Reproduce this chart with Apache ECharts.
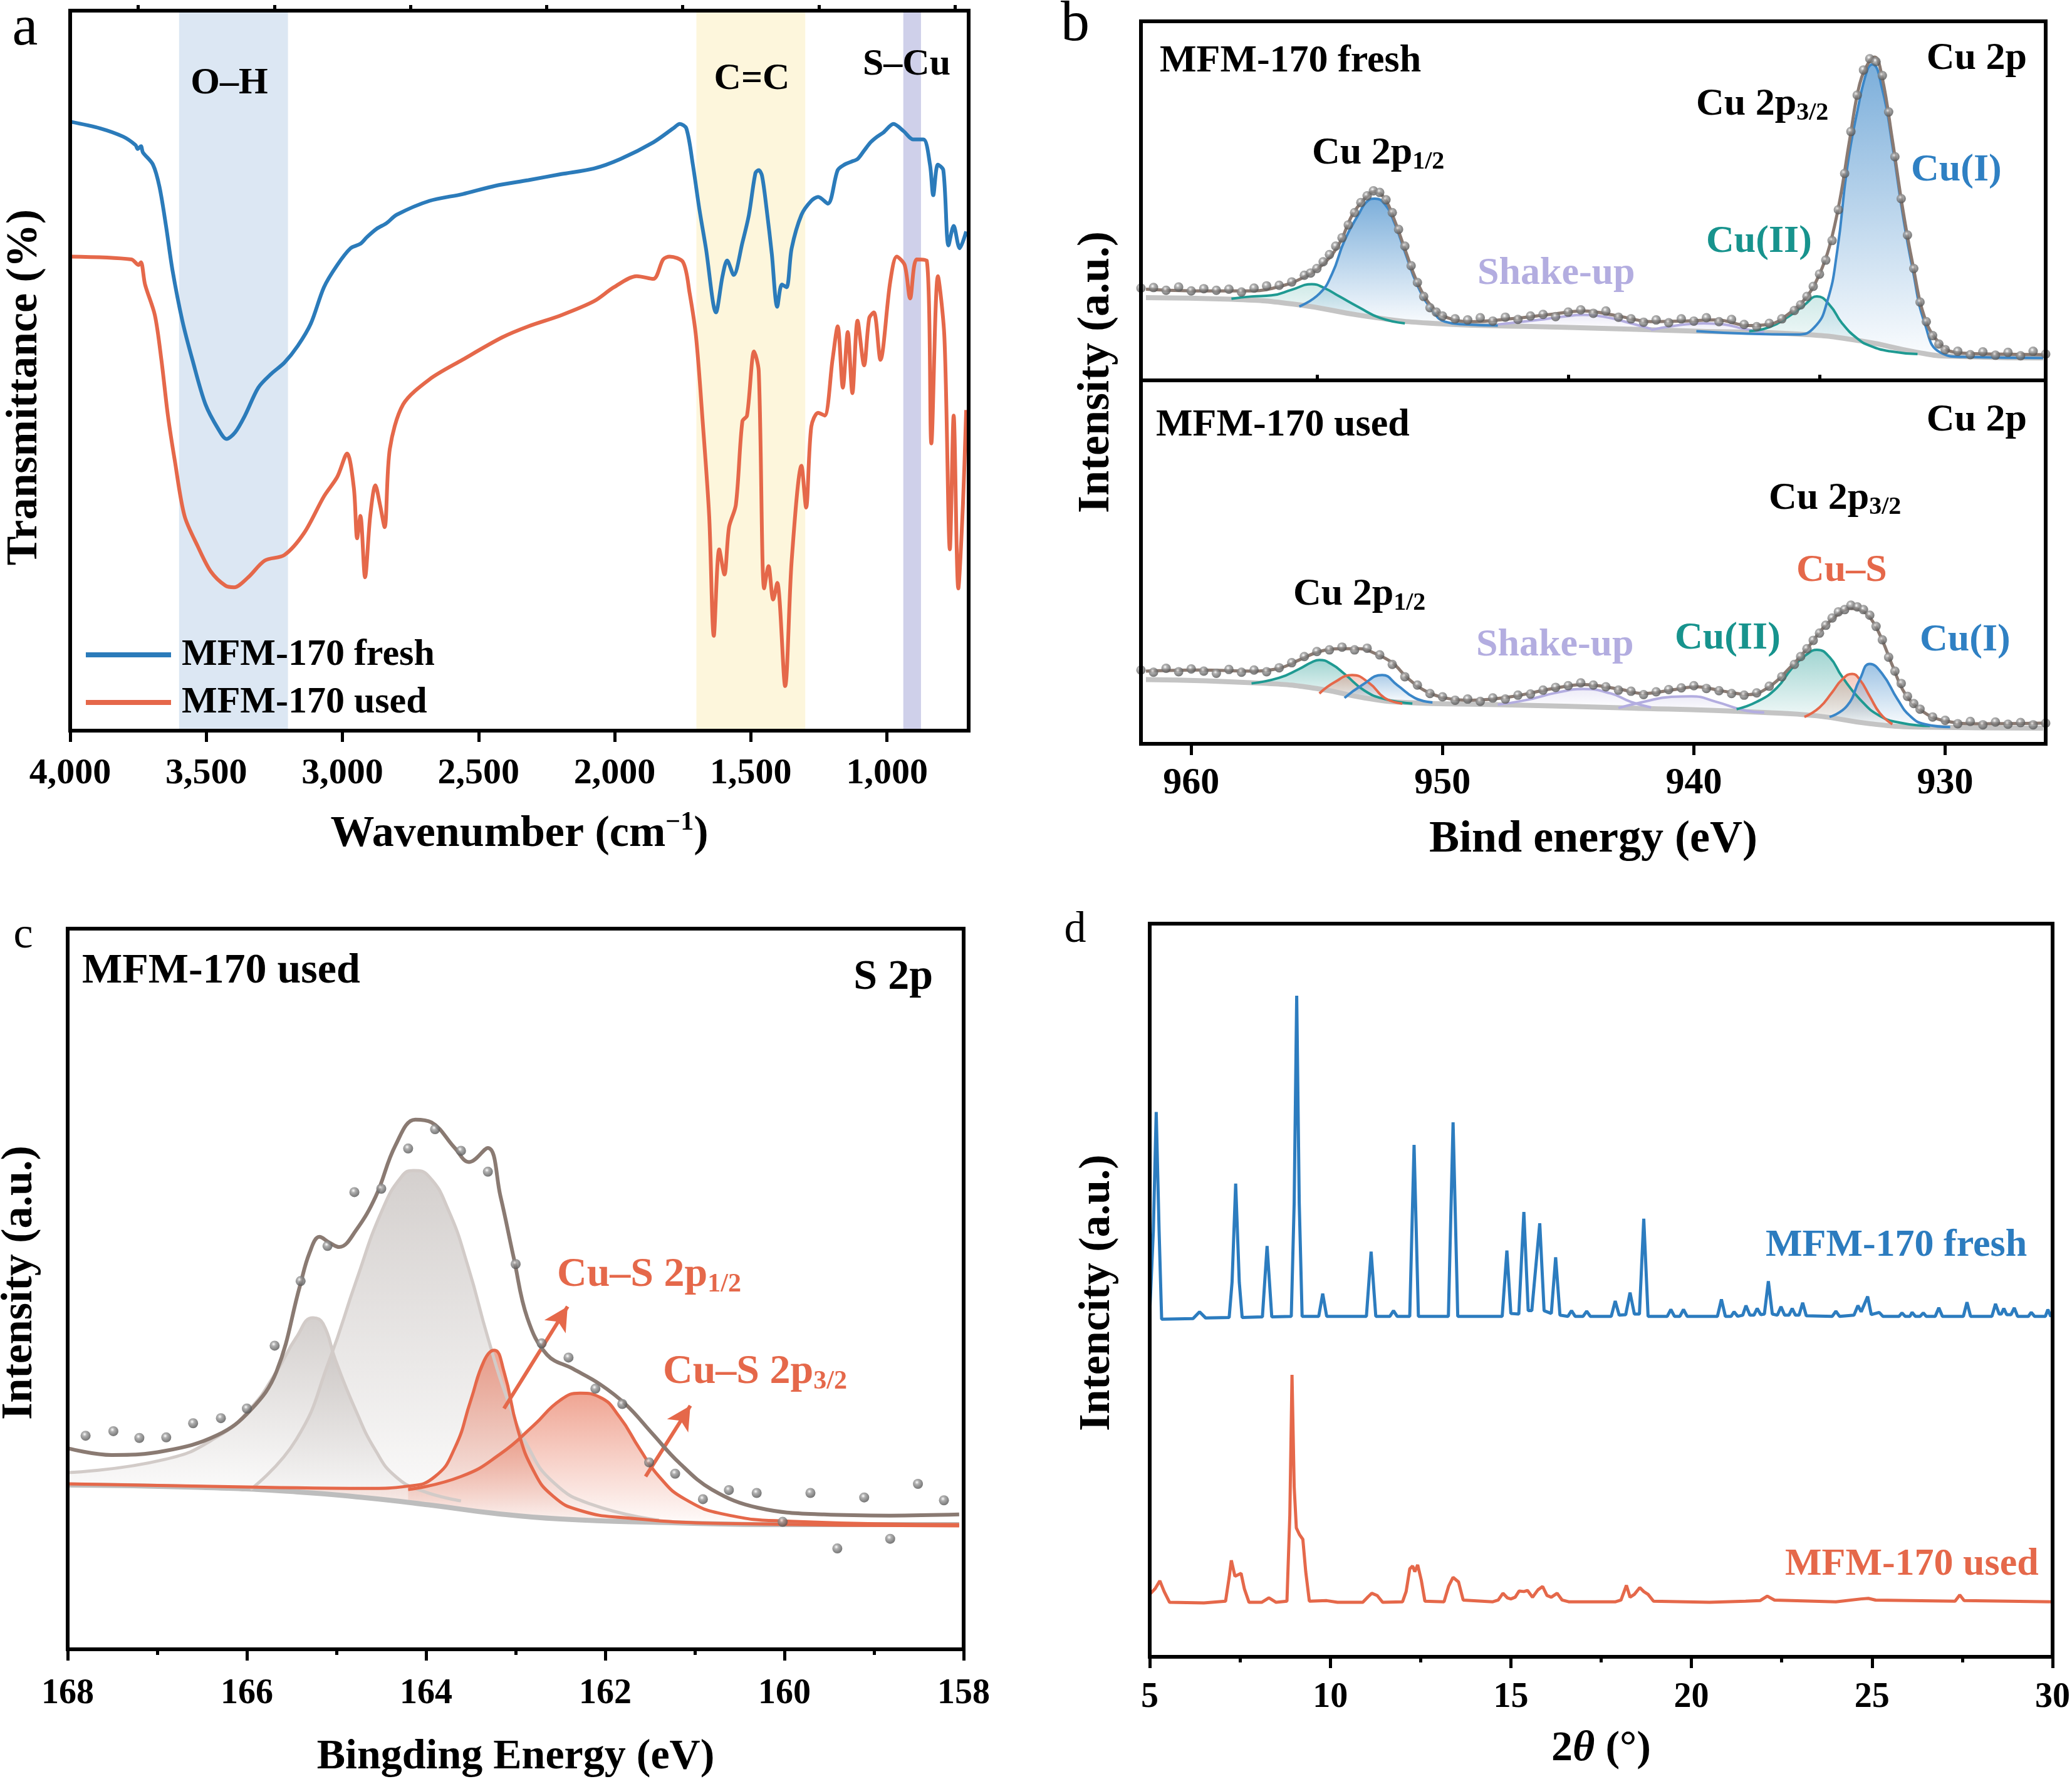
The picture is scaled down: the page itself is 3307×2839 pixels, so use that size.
<!DOCTYPE html>
<html><head><meta charset="utf-8">
<script src="https://cdn.jsdelivr.net/npm/echarts@6/dist/echarts.min.js"></script>
<style>html,body{margin:0;padding:0;background:#fff}#c{width:3307px;height:2839px}</style>
</head><body><div id="c"></div>
<script>
// ---------------- Panel a: FTIR ----------------
const ftirMajor = [1000, 1500, 2000, 2500, 3000, 3500, 4000];
const ftirMinor = [750, 1250, 1750, 2250, 2750, 3250, 3750];
const ftirFresh = [[4000,109.2],[3890,108.0],[3805,106.5],[3760,105.0],[3752,104.3],[3740,104.8],[3733,103.7],[3696,101.5],[3672,97.5],[3648,90.5],[3624,82.5],[3588,73.5],[3551,66.5],[3503,58.5],[3455,54.0],[3426,52.3],[3394,53.5],[3358,56.5],[3309,61.5],[3261,64.0],[3213,66.0],[3164,69.0],[3116,73.0],[3068,79.5],[3019,83.5],[2970,86.5],[2934,87.3],[2910,88.5],[2874,90.0],[2838,91.0],[2801,92.5],[2680,95.0],[2559,96.2],[2438,97.7],[2317,98.7],[2196,99.8],[2076,100.8],[1979,102.5],[1858,105.5],[1785,108.0],[1761,108.8],[1737,108.0],[1713,101.5],[1689,93.5],[1665,86.5],[1628,75.0],[1604,81.5],[1587,84.3],[1563,81.7],[1531,87.5],[1507,92.5],[1483,100.0],[1471,100.5],[1459,99.5],[1442,93.5],[1423,85.5],[1403,76.0],[1386,80.0],[1369,79.5],[1350,86.5],[1314,92.5],[1278,95.0],[1253,95.7],[1217,94.5],[1181,100.5],[1156,101.5],[1132,102.0],[1108,102.5],[1084,104.0],[1060,105.5],[1036,106.5],[1012,107.3],[976,108.8],[939,107.5],[903,106.0],[866,106.0],[842,101.5],[830,96.0],[813,101.5],[793,100.5],[774,87.0],[755,90.5],[733,86.5],[709,89.5]];
const ftirUsed = [[4000,85.0],[3775,84.5],[3749,83.5],[3740,84.0],[3725,80.0],[3689,74.5],[3665,66.5],[3641,56.5],[3616,48.5],[3580,38.5],[3531,33.0],[3483,28.5],[3430,26.0],[3398,25.7],[3346,27.5],[3285,30.5],[3213,31.5],[3140,35.5],[3068,42.0],[3019,45.5],[2983,49.7],[2958,43.5],[2946,34.5],[2934,38.5],[2917,27.5],[2898,38.5],[2879,44.0],[2862,40.5],[2845,36.5],[2826,50.5],[2777,58.5],[2680,63.0],[2559,66.5],[2414,70.5],[2317,72.5],[2196,74.5],[2076,77.0],[2003,79.5],[1919,81.5],[1858,81.0],[1822,84.5],[1798,85.0],[1749,84.0],[1725,78.5],[1701,70.5],[1677,55.5],[1653,38.5],[1636,17.0],[1616,32.5],[1597,28.0],[1580,36.5],[1555,40.5],[1531,55.5],[1514,56.5],[1488,68.0],[1471,64.5],[1451,25.5],[1435,29.5],[1418,23.5],[1403,26.5],[1374,8.0],[1350,30.5],[1314,47.5],[1297,40.0],[1278,54.5],[1253,57.0],[1229,56.5],[1200,66.5],[1181,72.5],[1162,61.5],[1144,71.5],[1127,60.5],[1108,73.5],[1084,65.5],[1065,74.0],[1048,75.0],[1024,66.5],[988,80.5],[964,85.0],[935,83.5],[915,77.5],[891,84.5],[854,84.3],[837,51.5],[813,81.5],[789,70.5],[769,32.5],[755,56.5],[738,25.5],[721,40.5],[709,57.5]];
const ftirBands = [[3600,3200,'#dce7f3'],[1700,1300,'#fdf6dc'],[940,875,'#cfd0ea']];

// ---------------- Panel b: Cu 2p XPS ----------------
const cuTicks = [930, 940, 950, 960];
const cuMinor = [935, 945, 955];
// fresh
const fBase = [[961.8,14.8],[958.4,14.5],[955.7,13.5],[953.1,11.5],[950.4,10.2],[945.2,9.5],[939.9,8.8],[935.9,8.3],[933.3,7.0],[931.1,5.0],[929.8,4.3],[926.1,4.0]];
const fCuI = [[939.9,8.8],[935.9,8.2],[935.2,9.5],[934.7,14],[934.3,23],[933.9,38],[933.5,48],[933.1,55.5],[932.9,56.5],[932.5,52],[932.1,42],[931.7,30],[931.3,20],[930.8,10],[930.2,5],[929.3,4.2],[926.1,4]];
const fCuI_12 = [[955.7,13.2],[954.9,15.5],[954.4,19],[953.9,25],[953.3,30],[953.0,32],[952.7,32.5],[952.3,31.5],[951.9,28],[951.5,23],[951.0,17],[950.4,12.5],[949.9,10.5],[949.1,10],[947.8,9.8]];
const fCuII = [[937.8,8.8],[937.0,9.5],[936.2,11.5],[935.6,13.5],[935.1,15],[934.6,13.5],[934.1,10.2],[933.5,7.5],[933.0,6.2],[932.2,5.2],[931.1,4.7]];
const fCuII_12 = [[958.4,14.6],[957.6,15],[956.8,15.2],[956.0,16.2],[955.2,17.2],[954.7,16.5],[954.1,15],[953.3,13],[952.5,11.2],[951.5,10.2]];
const fShakeA = [[947.8,10],[946.2,10.8],[945.2,11.4],[944.4,11.7],[943.6,11.4],[942.5,10.2],[941.7,9.2]];
const fShakeB = [[941.7,9],[940.7,9.8],[939.6,10.2],[938.8,10],[938.0,9.2],[937.2,8.6]];
const fEnv = [[961.8,16.3],[959.7,16.0],[957.6,16.0],[956.3,17.0],[955.5,18.5],[954.7,21.0],[954.1,24.5],[953.6,29.5],[953.1,32.5],[952.7,33.8],[952.3,32.5],[951.9,28.5],[951.5,23.5],[951.0,17.5],[950.4,13.0],[949.8,11.2],[948.9,10.5],[947.3,11.0],[945.7,11.8],[944.4,12.4],[943.0,11.5],[941.7,10.5],[940.4,10.6],[939.1,10.8],[937.8,9.8],[937.0,10.0],[936.2,12.0],[935.5,15.0],[935.0,19.0],[934.6,24.0],[934.2,32.0],[933.8,43.0],[933.4,53.0],[933.0,57.2],[932.8,57.8],[932.5,54.0],[932.1,43.0],[931.7,31.0],[931.3,21.0],[930.8,11.0],[930.2,6.5],[929.6,5.0],[928.0,4.7],[926.1,4.6]];
const fDots = [[962,16.5],[961.5,16.6],[961,16.1],[960.5,16.7],[960,16.0],[959.5,16.4],[959,16.1],[958.5,16.3],[958,15.8],[957.5,16.5],[957,16.9],[956.5,17.0],[956,17.6],[955.5,18.8],[955.25,19.2],[955,20.0],[954.75,21.2],[954.5,22.5],[954.25,24.0],[954,25.5],[953.75,27.8],[953.5,30.0],[953.25,31.8],[953,33.0],[952.75,33.9],[952.5,33.6],[952.25,32.3],[952,30.0],[951.75,27.0],[951.5,24.0],[951.25,20.5],[951,17.5],[950.75,15.0],[950.5,13.0],[950.25,12.2],[950,11.5],[949.5,11.0],[949,10.8],[948.5,11.2],[948,10.6],[947.5,11.3],[947,10.9],[946.5,11.5],[946,11.8],[945.5,11.4],[945,12.2],[944.5,12.6],[944,12.0],[943.5,12.4],[943,11.3],[942.5,11.0],[942,10.4],[941.5,10.8],[941,10.3],[940.5,11.0],[940,10.6],[939.5,11.2],[939,10.5],[938.5,10.9],[938,10.0],[937.5,9.6],[937,10.2],[936.5,11.0],[936,12.5],[935.75,13.5],[935.5,15.0],[935.25,16.8],[935,19.0],[934.75,21.5],[934.5,25.0],[934.25,30.5],[934,37.0],[933.75,44.5],[933.5,51.0],[933.25,55.5],[933,57.5],[932.75,57.0],[932.5,54.5],[932.25,48.0],[932,40.0],[931.75,32.5],[931.5,26.0],[931.25,20.0],[931,14.0],[930.75,10.5],[930.5,8.0],[930.25,6.5],[930,5.5],[929.5,5.2],[929,4.6],[928.5,5.1],[928,4.5],[927.5,5.0],[927,4.4],[926.5,5.2],[926,4.7]];
// used
const uBase = [[961.8,11.5],[957.0,10.8],[954.9,9.8],[953.1,8.2],[951.5,7.4],[947.8,7.0],[942.5,6.4],[937.2,5.6],[935.1,5.0],[933.0,3.6],[931.1,3.0],[926.1,2.8]];
const uCuII = [[938.3,6.2],[937.5,7.5],[936.7,10],[936.1,13.5],[935.5,16],[935.1,16.8],[934.6,15.5],[934.1,12],[933.4,8],[932.6,5],[931.7,3.7],[930.6,3.2]];
const uCuS = [[935.6,4.8],[935.0,6.5],[934.5,9.2],[934.1,11.5],[933.7,12.5],[933.4,11.5],[933.0,8.5],[932.6,5.5],[932.1,3.5]];
const uCuI = [[934.6,4.8],[933.9,6.8],[933.4,11.5],[933.0,14.3],[932.5,12.5],[931.9,8],[931.4,5],[930.8,3.5],[929.8,3]];
const uCuII_12 = [[957.6,10.8],[956.5,11.8],[955.7,13.4],[955.2,14.6],[954.9,15],[954.4,14.2],[953.9,12.5],[953.1,9.5],[952.3,8],[951.2,7.2]];
const uCuS_12 = [[954.9,9],[954.3,11],[953.6,12.3],[952.9,10.8],[952.3,8.2],[951.6,7.2]];
const uCuI_12 = [[953.9,8.2],[953.2,10.5],[952.4,12.3],[951.8,10.5],[951.1,8.2],[950.4,7.4]];
const uShakeA = [[947.8,7],[946.7,7.8],[945.4,9.2],[944.4,9.8],[943.3,9],[942.5,7.5],[941.7,6.5]];
const uShakeB = [[943.0,6.4],[942.0,7.5],[940.9,8.4],[940.1,8.5],[939.1,7.5],[938.0,6],[937.2,5.6]];
const uEnv = [[961.8,13.0],[959.7,13.2],[957.6,13.0],[956.5,13.5],[955.7,15.0],[954.9,16.5],[954.1,17.0],[953.3,17.0],[952.7,16.2],[952.0,14.5],[951.4,11.8],[950.7,9.5],[949.9,8.2],[948.9,7.8],[947.3,8.4],[945.7,9.8],[944.4,10.6],[943.0,9.8],[942.0,9.0],[940.9,9.6],[939.9,10.2],[938.8,9.4],[937.8,8.8],[937.0,10.2],[936.2,13.5],[935.5,17.0],[934.9,20.5],[934.3,23.0],[933.8,24.2],[933.3,23.8],[932.9,22.0],[932.5,18.5],[932.1,14.0],[931.6,9.0],[930.9,5.8],[930.1,4.2],[928.8,3.6],[926.1,3.7]];
const uDots = [[962,13.2],[961.5,12.8],[961,13.5],[960.5,12.9],[960,13.4],[959.5,13.0],[959,12.6],[958.5,13.3],[958,12.8],[957.5,13.2],[957,12.9],[956.5,13.6],[956,14.5],[955.5,15.6],[955,16.5],[954.5,16.8],[954,17.3],[953.5,16.8],[953,17.1],[952.5,15.9],[952,14.2],[951.5,12.0],[951,10.5],[950.5,9.0],[950,8.4],[949.5,7.8],[949,8.0],[948.5,7.6],[948,8.2],[947.5,8.0],[947,8.7],[946.5,8.9],[946,9.6],[945.5,10.1],[945,10.4],[944.5,10.9],[944,10.5],[943.5,10.2],[943,9.6],[942.5,9.4],[942,8.8],[941.5,9.3],[941,9.7],[940.5,10.0],[940,10.4],[939.5,9.9],[939,9.5],[938.5,9.0],[938,8.7],[937.5,9.1],[937,10.3],[936.5,12.0],[936,14.2],[935.75,15.6],[935.5,17.0],[935.25,18.5],[935,19.8],[934.75,21.2],[934.5,22.5],[934.25,23.6],[934,24.0],[933.75,24.8],[933.5,24.5],[933.25,24.0],[933,23.0],[932.75,21.0],[932.5,18.6],[932.25,15.5],[932,13.0],[931.75,10.8],[931.5,8.5],[931.25,7.2],[931,6.2],[930.5,4.8],[930,4.2],[929.5,3.6],[929,4.0],[928.5,3.4],[928,3.9],[927.5,3.5],[927,3.8],[926.5,3.4],[926,3.7]];

// ---------------- Panel c: S 2p XPS ----------------
const sBase = [[168.0,29.0],[166.55,28.6],[165.45,27.8],[164.7,26.8],[163.97,25.5],[163.24,24.0],[162.5,23.0],[161.4,22.4],[159.93,22.0],[158.05,22.0]];
const sPk1 = [[168.0,31.2],[166.92,33.5],[166.33,37.5],[165.96,42.5],[165.67,49],[165.45,55],[165.26,58.5],[165.15,57.5],[165.01,51],[164.78,42],[164.56,35],[164.34,30.5],[164.05,28],[163.61,26.2]];
const sPk2 = [[165.96,28.2],[165.45,37],[165.08,51],[164.78,65],[164.49,77.5],[164.27,83.5],[164.14,84.5],[163.97,83.5],[163.75,77.5],[163.53,67.5],[163.31,55],[163.09,44],[162.87,36],[162.58,29.5],[162.14,25.5],[161.4,22.8]];
const sCuS12 = [[168.0,29.2],[165.81,28.6],[164.64,28.4],[164.2,28.8],[163.9,30.5],[163.68,35.5],[163.5,44],[163.35,51],[163.24,52.8],[163.13,49],[162.98,39],[162.8,31.5],[162.58,27],[162.28,24.5],[161.77,23.2],[160.66,22.2],[158.05,21.8]];
const sCuS32 = [[164.2,28.2],[163.61,30.5],[163.17,34.5],[162.8,39.5],[162.5,44],[162.28,45.2],[162.06,44.5],[161.84,41],[161.62,35.5],[161.4,30.5],[161.11,26.5],[160.66,23.8],[159.93,22.6],[158.05,22]];
const sEnv = [[168.0,35.5],[167.51,34.3],[166.92,35],[166.33,37.8],[165.96,42.2],[165.67,49],[165.41,64],[165.3,70],[165.19,72.8],[165.08,71.8],[164.97,71],[164.78,74],[164.56,80],[164.34,89],[164.12,93.5],[163.94,93],[163.68,88.5],[163.52,86],[163.31,88.5],[163.17,80],[163.02,69],[162.87,58.5],[162.65,52],[162.36,49.5],[162.06,46.8],[161.77,43.2],[161.47,38],[161.18,33],[160.81,28.2],[160.3,25],[159.56,23.8],[158.82,23.6],[158.05,23.8]];
const sDots = [[167.8,37.7],[167.49,38.5],[167.2,37.3],[166.9,37.4],[166.6,39.9],[166.29,40.8],[166.0,42.5],[165.69,53.6],[165.4,65],[165.1,71.2],[164.8,80.7],[164.5,81.3],[164.2,88.4],[163.9,91.8],[163.61,88],[163.31,84.3],[163.0,68],[162.71,54],[162.41,51.5],[162.11,46],[161.81,43.3],[161.51,33],[161.22,31],[160.91,26.5],[160.62,28.1],[160.31,27.6],[160.02,22.5],[159.71,27.6],[159.41,17.8],[159.11,26.8],[158.82,19.5],[158.51,29.2],[158.22,26.3]];
const sArrows = [[[163.13,42.5],[162.42,60.5]],[[161.55,30.5],[161.05,43]]];

// ---------------- Panel d: XRD ----------------
const xrdFresh = [[5.0,60.5],[5.1,75],[5.18,96.0],[5.26,75],[5.33,59.5],[6.2,59.6],[6.38,60.8],[6.55,59.7],[7.2,59.8],[7.28,66],[7.38,83.4],[7.48,66],[7.56,59.8],[8.12,59.9],[8.25,72.4],[8.38,59.9],[8.92,60],[9.0,80],[9.07,116.5],[9.14,80],[9.22,60],[9.68,60],[9.79,64.0],[9.9,60],[11.0,60],[11.13,71.4],[11.26,60],[11.65,60],[11.75,61.0],[11.85,60],[12.2,60],[12.32,90.2],[12.44,60],[13.27,60],[13.40,94.2],[13.53,60],[14.76,60],[14.89,71.6],[15.0,60.5],[15.22,60.4],[15.36,78.4],[15.48,61],[15.58,61],[15.80,76.4],[15.92,61],[16.12,60.5],[16.24,70.4],[16.36,60.2],[16.58,60],[16.68,61.0],[16.78,60],[17.0,60],[17.1,60.9],[17.2,60],[17.78,60],[17.89,62.7],[18.0,60.2],[18.18,60.3],[18.3,64.2],[18.42,60.4],[18.56,60.4],[18.68,77.2],[18.8,60],[19.33,60],[19.43,61.2],[19.53,60],[19.68,60],[19.78,61.2],[19.88,60],[20.72,60],[20.83,63.0],[20.94,60],[21.1,60],[21.18,60.8],[21.28,60],[21.42,60.2],[21.51,61.9],[21.62,60.2],[21.73,60.2],[21.82,61.4],[21.92,60.3],[22.02,60.4],[22.13,66.2],[22.24,60.4],[22.38,60.2],[22.48,61.7],[22.58,60.2],[22.7,60.2],[22.79,61.4],[22.88,60.2],[22.98,60.2],[23.08,62.4],[23.18,60.1],[23.9,60],[24.0,60.9],[24.1,60],[24.5,60.2],[24.61,61.9],[24.7,60.8],[24.88,63.5],[24.98,60.3],[25.2,60.7],[25.3,60],[25.75,60],[25.83,60.6],[25.92,60],[26.05,60],[26.11,60.7],[26.2,60],[26.33,60],[26.42,60.6],[26.5,60],[26.75,60],[26.85,61.5],[26.95,60],[27.53,60],[27.63,62.5],[27.73,60],[28.32,60],[28.42,62.2],[28.52,60.4],[28.58,60.4],[28.65,61.4],[28.73,60.3],[28.85,60.3],[28.94,61.5],[29.03,60],[29.33,60],[29.41,60.7],[29.5,60],[29.8,60],[29.87,61.2],[29.95,60],[30.0,60.3]];
const xrdUsed = [[5.0,11.0],[5.15,12.0],[5.28,13.4],[5.4,11.5],[5.55,9.6],[6.5,9.5],[7.1,9.8],[7.2,14],[7.26,17.0],[7.36,14.2],[7.46,14.5],[7.53,14.7],[7.62,12],[7.75,9.6],[8.1,9.6],[8.3,10.4],[8.5,9.6],[8.8,9.8],[8.88,25],[8.94,49.7],[9.0,30],[9.06,22.7],[9.15,21.5],[9.24,20.7],[9.32,15],[9.42,9.8],[9.9,9.9],[10.2,9.6],[10.9,9.6],[11.05,10.6],[11.15,11.2],[11.3,10.8],[11.45,9.6],[12.0,9.7],[12.1,11.5],[12.2,15.5],[12.28,16.0],[12.34,15.0],[12.42,16.2],[12.52,13.5],[12.62,9.8],[13.15,9.7],[13.28,12.5],[13.4,14.0],[13.55,13.2],[13.68,10],[14.5,9.7],[14.65,10],[14.78,11.2],[14.9,10.4],[15.0,10.2],[15.12,10.5],[15.23,11.6],[15.36,11.5],[15.46,11.7],[15.6,10.5],[15.75,11.8],[15.88,12.4],[16.0,10.8],[16.12,10.5],[16.28,11.2],[16.42,10.0],[16.6,9.7],[17.9,9.7],[18.05,10.0],[18.2,12.6],[18.3,10.5],[18.42,11.0],[18.57,12.2],[18.68,11.5],[18.8,11.0],[18.95,9.8],[20.5,9.6],[21.5,9.8],[21.9,9.9],[22.1,10.7],[22.3,10.0],[24.0,9.7],[24.7,10.2],[24.9,10.3],[25.1,10.0],[27.3,9.8],[27.43,10.9],[27.55,9.9],[30.0,9.7]];

// ---------------- styling ----------------
const F = 'Liberation Serif';
const BLUE = '#2b7bba', RED = '#e5684a', TEAL = '#1f9a92', LAV = '#b3ade0', ENV = '#8a7a72', BASE = '#c4c4c4', GRAYPK = '#a89f9b';
const XBLUE = '#3a86c8';

function rgba(hex, a) { const n = parseInt(hex.slice(1), 16); return `rgba(${n >> 16},${(n >> 8) & 255},${n & 255},${a})`; }
function grad(hex, a0) { return {type:'linear', x:0, y:0, x2:0, y2:1, colorStops:[{offset:0, color:rgba(hex, a0)}, {offset:1, color:rgba(hex, 0.03)}]}; }
// a fitted component: filled area (below the baseline mask) + its outline (above the mask)
function comp(data, color, gi, a0, lineColor, w) {
  const mn = Math.min(...data.map(d => d[1]));
  return [
    {type:'line', xAxisIndex:gi, yAxisIndex:gi, data, smooth:0.5, symbol:'none',
     lineStyle:{width:0}, areaStyle:{color:grad(color, a0), origin:mn}, z:2, silent:true},
    {type:'line', xAxisIndex:gi, yAxisIndex:gi, data, smooth:0.5, symbol:'none',
     lineStyle:{color: lineColor || color, width: w || 4}, z:4, silent:true}
  ];
}
function plain(data, color, width, gi, z, smooth, extra) {
  return Object.assign({type:'line', xAxisIndex:gi, yAxisIndex:gi, data, smooth: smooth === undefined ? 0.5 : smooth,
    symbol:'none', lineStyle:{color, width}, z: z || 3, silent:true}, extra || {});
}
// background line; white below it hides fills under the background
function baseLine(data, color, gi) {
  return {type:'line', xAxisIndex:gi, yAxisIndex:gi, data, smooth:0.5, symbol:'none', silent:true,
    lineStyle:{color, width:8}, areaStyle:{color:'#ffffff', opacity:1, origin:'start'}, z:3};
}
function dots(data, gi, size) {
  return {type:'scatter', xAxisIndex:gi, yAxisIndex:gi, data, symbolSize:size, silent:true, z:6,
    itemStyle:{color:{type:'radial', x:0.4, y:0.35, r:0.7, colorStops:[{offset:0, color:'#ffffff'}, {offset:0.3, color:'#9c9c9c'}, {offset:1, color:'#4a4a4a'}]}}};
}
const lbl = (size, margin, extra) => Object.assign({color:'#000', fontFamily:F, fontWeight:'bold', fontSize:size, margin, lineHeight:size}, extra || {});
const tickStyle = {color:'#000', width:5};
const lineBlack = {show:true, lineStyle:{color:'#000', width:6}};
const nameRich = (size) => ({t:{fontFamily:F, fontWeight:'bold', fontSize:size, color:'#000', lineHeight:80},
  p:{fontFamily:F, fontWeight:'bold', fontSize:Math.round(size*0.6), color:'#000', lineHeight:34, verticalAlign:'top'},
  i:{fontFamily:F, fontWeight:'bold', fontStyle:'italic', fontSize:size, color:'#000', lineHeight:80}});

function T(x, y, text, size, color, align, weight) {
  return {type:'text', x, y, z:100, silent:true, style:{text, fontSize:size, fontFamily:F, fontWeight:weight || 'bold',
    fill:color || '#000', align:align || 'left', verticalAlign:'middle'}};
}
function TS(x, y, main, sub, size, color, align) {
  const s = Math.round(size * 0.64);
  return {type:'text', x, y, z:100, silent:true, style:{text:`{m|${main}}{s|${sub}}`, align:align || 'left', verticalAlign:'middle',
    rich:{m:{fontSize:size, fontFamily:F, fontWeight:'bold', fill:color, lineHeight:Math.round(size*1.1)},
          s:{fontSize:s, fontFamily:F, fontWeight:'bold', fill:color, lineHeight:Math.round(size*0.45), verticalAlign:'bottom'}}}};
}
function YT(x, y, text, size) {
  return {type:'text', x, y, rotation:Math.PI/2, z:100, silent:true, style:{text, fontSize:size, fontFamily:F, fontWeight:'bold', fill:'#000', align:'center', verticalAlign:'middle'}};
}

const grids = [
  {left:112, top:17, width:1434, height:1149},
  {left:1821, top:34, width:1444, height:573},
  {left:1821, top:607, width:1444, height:580},
  {left:108, top:1482, width:1430, height:1151},
  {left:1835, top:1474, width:1441, height:1170}
].map(g => Object.assign({show:true, z:10, borderColor:'#000', borderWidth:6, backgroundColor:'transparent', containLabel:false}, g));

const noY = (gi, max) => ({gridIndex:gi, type:'value', min:0, max, axisLine:{show:false}, axisTick:{show:false}, axisLabel:{show:false}, splitLine:{show:false}});

const xAxis = [
  {gridIndex:0, z:10, type:'value', min:700, max:4000, inverse:true, axisLine:lineBlack,
   axisTick:{show:true, customValues:ftirMajor, length:18, lineStyle:tickStyle},
   axisLabel:lbl(58, 40, {customValues:ftirMajor, formatter:v => Number(v).toLocaleString('en-US')}), splitLine:{show:false},
   name:'{t|Wavenumber (cm}{p|−1}{t|)}', nameLocation:'middle', nameGap:126, nameTextStyle:{rich:nameRich(70)}},
  {gridIndex:1, z:10, type:'value', min:926, max:962, inverse:true, axisLine:lineBlack, axisTick:{show:false}, axisLabel:{show:false}, splitLine:{show:false}},
  {gridIndex:2, z:10, type:'value', min:926, max:962, inverse:true, axisLine:lineBlack,
   axisTick:{show:true, customValues:cuTicks, length:18, lineStyle:tickStyle},
   axisLabel:lbl(60, 33, {customValues:cuTicks}), splitLine:{show:false},
   name:'{t|Bind energy (eV)}', nameLocation:'middle', nameGap:113, nameTextStyle:{rich:nameRich(72)}},
  {gridIndex:3, z:10, type:'value', min:158, max:168, interval:2, inverse:true, axisLine:lineBlack,
   axisTick:{show:true, length:18, lineStyle:tickStyle}, minorTick:{show:true, splitNumber:2, length:9, lineStyle:tickStyle},
   axisLabel:lbl(56, 44), splitLine:{show:false},
   name:'{t|Bingding Energy (eV)}', nameLocation:'middle', nameGap:132, nameTextStyle:{rich:nameRich(68)}},
  {gridIndex:4, z:10, type:'value', min:5, max:30, interval:5, axisLine:lineBlack,
   axisTick:{show:true, length:18, lineStyle:tickStyle}, minorTick:{show:true, splitNumber:2, length:9, lineStyle:tickStyle},
   axisLabel:lbl(56, 38), splitLine:{show:false},
   name:'{t|2}{i|θ}{t| (°)}', nameLocation:'middle', nameGap:107, nameTextStyle:{rich:nameRich(68)}},
  // minor tick overlays
  {gridIndex:0, z:10, type:'value', min:700, max:4000, inverse:true, axisLine:{show:false},
   axisTick:{show:true, customValues:ftirMinor, length:9, lineStyle:tickStyle}, axisLabel:{show:false}, splitLine:{show:false}},
  {gridIndex:2, z:10, type:'value', min:926, max:962, inverse:true, axisLine:{show:false},
   axisTick:{show:true, customValues:cuMinor, length:9, lineStyle:tickStyle}, axisLabel:{show:false}, splitLine:{show:false}}
];
const yAxis = [noY(0, 129.1), noY(1, 64.2), noY(2, 65), noY(3, 127.2), noY(4, 129.2)];

const series = [
  // panel a
  {type:'line', xAxisIndex:0, yAxisIndex:0, data:[], z:1, silent:true,
   markArea:{silent:true, data: ftirBands.map(b => [{xAxis:b[0], itemStyle:{color:b[2]}}, {xAxis:b[1]}])}},
  {name:'MFM-170 fresh', type:'line', xAxisIndex:0, yAxisIndex:0, data:ftirFresh, smooth:0.3, symbol:'none', lineStyle:{color:BLUE, width:6}, itemStyle:{color:BLUE}, z:3},
  {name:'MFM-170 used', type:'line', xAxisIndex:0, yAxisIndex:0, data:ftirUsed, smooth:0.3, symbol:'none', lineStyle:{color:RED, width:6}, itemStyle:{color:RED}, z:3},
  // panel b fresh
  ...comp(fShakeA, LAV, 1, 0.35), ...comp(fShakeB, LAV, 1, 0.35),
  ...comp(fCuII_12, TEAL, 1, 0.3), ...comp(fCuII, TEAL, 1, 0.3),
  ...comp(fCuI_12, XBLUE, 1, 0.95), ...comp(fCuI, XBLUE, 1, 0.95),
  baseLine(fBase, BASE, 1),
  plain(fEnv, ENV, 5, 1, 5, 0.4),
  dots(fDots, 1, 15),
  // panel b used
  ...comp(uShakeA, LAV, 2, 0.35), ...comp(uShakeB, LAV, 2, 0.35),
  ...comp(uCuII_12, TEAL, 2, 0.6), ...comp(uCuS_12, RED, 2, 0.5), ...comp(uCuI_12, XBLUE, 2, 0.6),
  ...comp(uCuII, TEAL, 2, 0.6), ...comp(uCuS, RED, 2, 0.5), ...comp(uCuI, XBLUE, 2, 0.7),
  baseLine(uBase, BASE, 2),
  plain(uEnv, ENV, 5, 2, 5, 0.4),
  dots(uDots, 2, 15),
  // panel c
  ...comp(sPk1, GRAYPK, 3, 0.7, '#d2cbc8', 5), ...comp(sPk2, GRAYPK, 3, 0.7, '#d2cbc8', 5),
  baseLine(sBase, '#bdbdbd', 3),
  ...comp(sCuS32, RED, 3, 0.85, RED, 5), ...comp(sCuS12, RED, 3, 0.85, RED, 5),
  plain(sEnv, ENV, 6, 3, 5, 0.4, {markLine:{silent:true, symbol:['none','arrow'], symbolSize:[30,38], label:{show:false},
    lineStyle:{color:RED, width:6, type:'solid'}, data: sArrows.map(a => [{coord:a[0]}, {coord:a[1]}])}}),
  dots(sDots, 3, 16),
  // panel d
  plain(xrdFresh, '#2c7cbf', 5, 4, 3, false),
  plain(xrdUsed, RED, 5, 4, 3, false)
];

const graphic = [
  // panel a
  T(40, 47, 'a', 92, '#000', 'center', 'normal'),
  T(366, 133, 'O–H', 60, '#000', 'center'),
  T(1200, 126, 'C=C', 60, '#000', 'center'),
  T(1447, 103, 'S–Cu', 60, '#000', 'center'),
  YT(40, 618, 'Transmittance (%)', 70),
  // panel b
  T(1716, 40, 'b', 92, '#000', 'center', 'normal'),
  T(1851, 98, 'MFM-170 fresh', 62),
  T(3235, 94, 'Cu 2p', 62, '#000', 'right'),
  TS(2707, 167, 'Cu 2p', '3/2', 62, '#000'),
  TS(2094, 245, 'Cu 2p', '1/2', 62, '#000'),
  T(3050, 272, 'Cu(I)', 62, '#2f80c3'),
  T(2723, 386, 'Cu(II)', 62, '#17938d'),
  T(2358, 437, 'Shake-up', 62, '#b3ade0'),
  T(1845, 679, 'MFM-170 used', 62),
  T(3235, 671, 'Cu 2p', 62, '#000', 'right'),
  TS(2823, 796, 'Cu 2p', '3/2', 62, '#000'),
  T(2867, 911, 'Cu–S', 62, '#e5684a'),
  TS(2064, 949, 'Cu 2p', '1/2', 62, '#000'),
  T(2356, 1030, 'Shake-up', 62, '#b3ade0'),
  T(2673, 1019, 'Cu(II)', 62, '#17938d'),
  T(3064, 1022, 'Cu(I)', 62, '#2f80c3'),
  YT(1750, 594, 'Intensity (a.u.)', 72),
  // panel c
  T(37, 1494, 'c', 70, '#000', 'center', 'normal'),
  T(131, 1550, 'MFM-170 used', 68),
  T(1489, 1560, 'S 2p', 68, '#000', 'right'),
  TS(889, 2035, 'Cu–S 2p', '1/2', 66, '#e5684a'),
  TS(1058, 2190, 'Cu–S 2p', '3/2', 66, '#e5684a'),
  YT(32, 2047, 'Intensity (a.u.)', 70),
  // panel d
  T(1716, 1485, 'd', 70, '#000', 'center', 'normal'),
  T(2818, 1988, 'MFM-170 fresh', 62, '#2c7cbf'),
  T(2849, 2497, 'MFM-170 used', 62, '#e5684a'),
  YT(1752, 2063, 'Intencity (a.u.)', 70)
];

const chart = echarts.init(document.getElementById('c'), null, {renderer:'canvas', width:3307, height:2839});
chart.setOption({
  animation:false,
  backgroundColor:'#fff',
  grid:grids,
  xAxis, yAxis, series, graphic,
  legend:{data:['MFM-170 fresh','MFM-170 used'], orient:'vertical', left:132, top:1005, itemWidth:136, itemHeight:8, itemGap:6,
    icon:'rect', selectedMode:false,
    textStyle:{fontFamily:F, fontWeight:'bold', fontSize:60, color:'#000', lineHeight:70, padding:[0,0,0,12]}}
});
</script></body></html>
